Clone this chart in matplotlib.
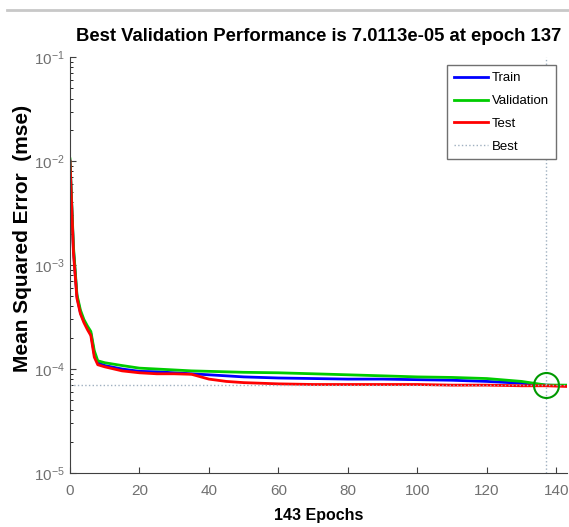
import matplotlib
matplotlib.use("Agg")
import matplotlib.pyplot as plt
from matplotlib.lines import Line2D
from matplotlib.ticker import LogLocator, NullFormatter

plt.rcParams['font.family'] = ['Liberation Sans', 'DejaVu Sans']

# values (log scale)
epochs = [0, 1, 2, 3, 4, 5, 6, 7, 8, 10, 15, 20, 25, 30, 35, 40, 45, 50,
          60, 70, 80, 90, 100, 110, 120, 130, 137, 143]
train = [1.0e-2, 1.4e-3, 5.0e-4, 3.5e-4, 2.9e-4, 2.5e-4, 2.2e-4, 1.4e-4, 1.15e-4,
         1.08e-4, 1.0e-4, 9.5e-5, 9.4e-5, 9.2e-5, 9.0e-5, 8.8e-5, 8.6e-5, 8.4e-5,
         8.2e-5, 8.1e-5, 8.0e-5, 8.0e-5, 7.9e-5, 7.8e-5, 7.6e-5, 7.3e-5, 7.0e-5, 6.9e-5]
validation = [1.05e-2, 1.5e-3, 5.2e-4, 3.7e-4, 3.0e-4, 2.6e-4, 2.3e-4, 1.5e-4, 1.2e-4,
              1.15e-4, 1.08e-4, 1.02e-4, 1.0e-4, 9.8e-5, 9.6e-5, 9.5e-5, 9.4e-5, 9.3e-5,
              9.2e-5, 9.0e-5, 8.8e-5, 8.6e-5, 8.4e-5, 8.3e-5, 8.1e-5, 7.6e-5, 7.0113e-5, 7.0e-5]
test = [1.0e-2, 1.3e-3, 4.8e-4, 3.4e-4, 2.8e-4, 2.4e-4, 2.1e-4, 1.3e-4, 1.1e-4,
        1.05e-4, 9.6e-5, 9.2e-5, 9.0e-5, 9.0e-5, 8.9e-5, 8.0e-5, 7.6e-5, 7.4e-5,
        7.2e-5, 7.1e-5, 7.1e-5, 7.1e-5, 7.1e-5, 7.0e-5, 7.0e-5, 6.9e-5, 6.9e-5, 6.8e-5]
best_epoch = 137
best_perf = 7.0113e-5
n_epochs = 143
xticks = [0, 20, 40, 60, 80, 100, 120, 140]

fig = plt.figure(figsize=(5.69, 5.27), dpi=100)
ax = fig.add_axes([0.123, 0.1025, 0.873, 0.789])

# window border at the top
fig.add_artist(Line2D([0.012, 1.0], [0.981, 0.981], transform=fig.transFigure,
                      color='#c8c8c8', linewidth=2))

ax.plot(epochs, train, color=(0, 0, 1), linewidth=2, label='Train')
ax.plot(epochs, validation, color=(0, 0.8, 0), linewidth=2, label='Validation')
ax.plot(epochs, test, color=(1, 0, 0), linewidth=2, label='Test')
ax.axhline(best_perf, color='#9fb0c0', linestyle=':', linewidth=1, label='Best')
ax.axvline(best_epoch, color='#9fb0c0', linestyle=':', linewidth=1)
ax.plot([best_epoch], [best_perf], 'o', markersize=18, markerfacecolor='none',
        markeredgecolor=(0, 0.6, 0), markeredgewidth=1.5)

ax.set_yscale('log')
ax.set_ylim(1e-5, 1e-1)
ax.set_xlim(0, n_epochs)
ax.set_xticks(xticks)
ax.yaxis.set_major_locator(LogLocator(base=10, numticks=10))
ax.yaxis.set_minor_locator(LogLocator(base=10, subs=range(2, 10), numticks=50))
ax.yaxis.set_minor_formatter(NullFormatter())
ax.tick_params(direction='in', labelsize=11, labelcolor='#707070', colors='#404040',
               length=4)
ax.tick_params(axis='x', pad=8)
ax.tick_params(which='minor', direction='in', length=2.5)

for side in ['top', 'right']:
    ax.spines[side].set_visible(False)
for side in ['left', 'bottom']:
    ax.spines[side].set_color('#404040')

ax.set_title('Best Validation Performance is 7.0113e-05 at epoch 137',
             fontsize=13.3, fontweight='bold', pad=12)
ax.set_xlabel('143 Epochs', fontsize=11.5, fontweight='bold', labelpad=7)
ax.set_ylabel('Mean Squared Error  (mse)', fontsize=15, fontweight='bold')
ax.yaxis.set_label_coords(-0.076, 0.565)

leg = ax.legend(loc='upper right', bbox_to_anchor=(0.978, 0.98), fontsize=9.5,
                fancybox=False, edgecolor='#707070', framealpha=1,
                handlelength=2.6, handletextpad=0.3, labelspacing=0.8,
                borderpad=0.5, borderaxespad=0)
leg.get_frame().set_linewidth(1)

fig.savefig('out.png', dpi=100)
